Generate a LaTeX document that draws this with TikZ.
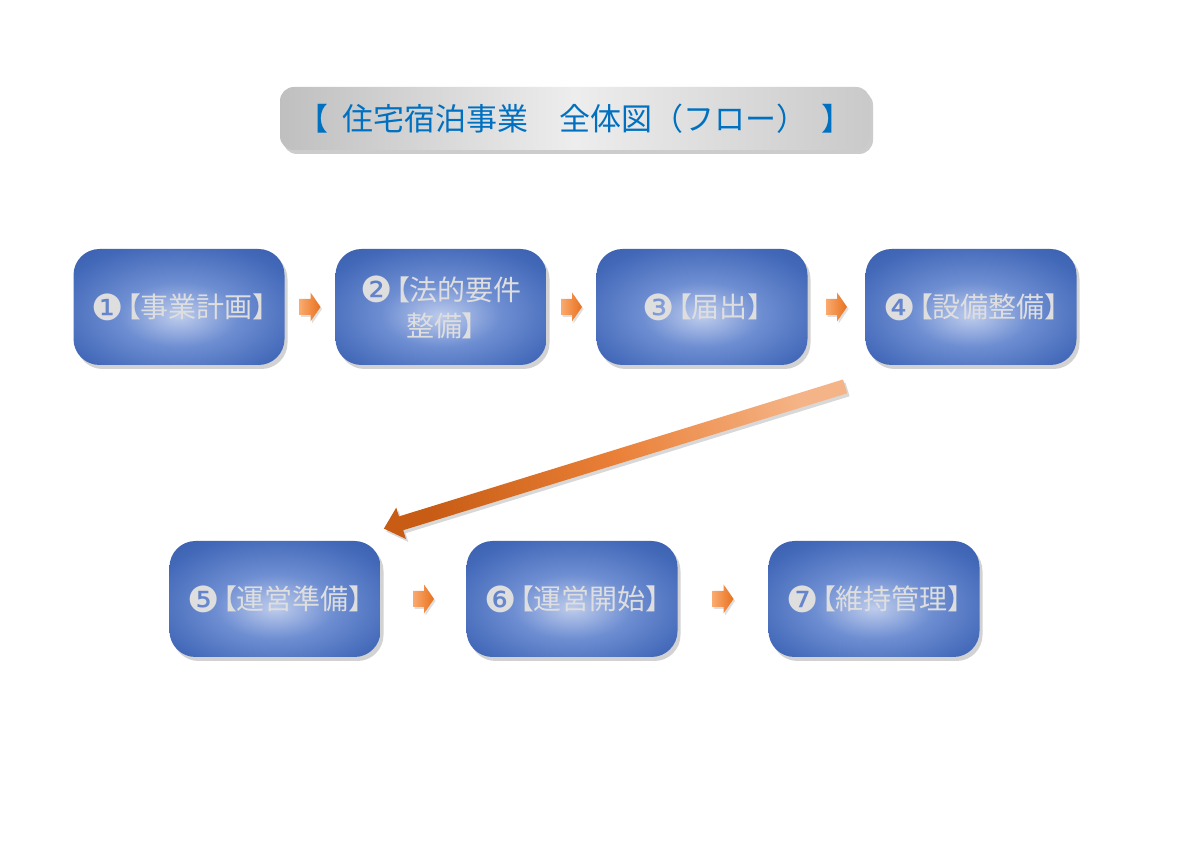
\documentclass[tikz,border=0pt]{standalone}
\usepackage{fontspec}
\setmainfont{Noto Sans CJK JP}[RawFeature=+palt]
\newfontfamily\plainjp{Noto Sans CJK JP}
\newfontfamily\numfont{DejaVu Sans}
\usetikzlibrary{shadows,calc}
\definecolor{titleblue}{RGB}{0,112,192}
\definecolor{boxtxt}{RGB}{222,222,222}
\definecolor{bA}{RGB}{190,204,236}
\definecolor{bB}{RGB}{110,142,210}
\definecolor{bC}{RGB}{66,104,184}
\definecolor{bD}{RGB}{46,80,156}
\definecolor{bE}{RGB}{38,66,135}
\definecolor{arrlight}{RGB}{245,180,135}
\definecolor{arrmid}{RGB}{234,128,55}
\definecolor{arrdark}{RGB}{200,92,20}
\definecolor{sarrlight}{RGB}{250,170,110}
\definecolor{sarrdark}{RGB}{232,112,30}
\pgfdeclareradialshading{boxshade}{\pgfpoint{0bp}{-4bp}}{color(0bp)=(bA); color(14bp)=(bB); color(30bp)=(bC); color(50bp)=(bD); color(75bp)=(bE)}
\newcommand{\cnum}[1]{{\numfont\fontsize{18}{18}\selectfont\raisebox{-0.06em}{#1}}\hspace{0.12em}}
\tikzset{
  stepbox/.style={rounded corners=13pt, minimum width=105.5pt, minimum height=58pt,
    shading=boxshade, drop shadow={shadow xshift=1.5pt, shadow yshift=-2pt, opacity=0.35},
    text=boxtxt, font=\fontsize{14}{18}\selectfont, align=center, inner sep=0pt},
  titlebox/.style={rounded corners=7pt, minimum width=295pt, minimum height=31.5pt,
    left color=black!25, right color=black!21, middle color=black!7,
    drop shadow={shadow xshift=1.5pt, shadow yshift=-2pt, opacity=0.4},
    text=titleblue, font=\plainjp\fontsize{15.5}{18}\selectfont, inner sep=0pt},
  smallarrow/.pic={\shade[left color=sarrlight, right color=sarrdark,
      drop shadow={shadow xshift=0.8pt, shadow yshift=-1pt, opacity=0.25}]
      (-5.25pt,-4pt) -- (0.25pt,-4pt) -- (0.25pt,-7.25pt) -- (5.25pt,0pt)
      -- (0.25pt,7.25pt) -- (0.25pt,4pt) -- (-5.25pt,4pt) -- cycle;}
}
\begin{document}
\begin{tikzpicture}[x=0.5pt,y=-0.5pt]
\useasboundingbox[fill=white] (0,0) rectangle (1200,849);
\node[titlebox] (title) at (575,118.5) {【\hspace{0.45em}住宅宿泊事業　全体図（フロー）\hspace{0.45em}】};
\node[stepbox] (b1) at (179,307) {\cnum{❶}【事業計画】};
\node[stepbox] (b2) at (441,307) {\cnum{❷}【法的要件\\整備】};
\node[stepbox] (b3) at (702,307) {\cnum{❸}【届出】};
\node[stepbox] (b4) at (971,307) {\cnum{❹}【設備整備】};
\node[stepbox] (b5) at (275,599) {\cnum{❺}【運営準備】};
\node[stepbox] (b6) at (572,599) {\cnum{❻}【運営開始】};
\node[stepbox] (b7) at (874,599) {\cnum{❼}【維持管理】};
\pic at ($(b1.east)!0.5!(b2.west)$) {smallarrow};
\pic at ($(b2.east)!0.5!(b3.west)$) {smallarrow};
\pic at ($(b3.east)!0.5!(b4.west)$) {smallarrow};
\pic at ($(b5.east)!0.5!(b6.west)$) {smallarrow};
\pic at ($(b6.east)!0.5!(b7.west)$) {smallarrow};
\coordinate (tl) at ($(b4.south west)+(-20,21)$);
\coordinate (hd) at ($(b5.north east)+(3,-12)$);
\coordinate (hb) at ($(hd)!9pt!(tl)$);
\shade[top color=arrlight, bottom color=arrdark, middle color=arrmid, shading angle=-72,
  drop shadow={shadow xshift=1.2pt, shadow yshift=-1.5pt, opacity=0.3}]
  ($(tl)!3.6pt!90:(hd)$) -- ($(hb)!3.6pt!90:(hd)$) -- ($(hb)!8.2pt!90:(hd)$) -- (hd)
  -- ($(hb)!8.2pt!-90:(hd)$) -- ($(hb)!3.6pt!-90:(hd)$) -- ($(tl)!3.6pt!-90:(hd)$) -- cycle;
\end{tikzpicture}
\end{document}
